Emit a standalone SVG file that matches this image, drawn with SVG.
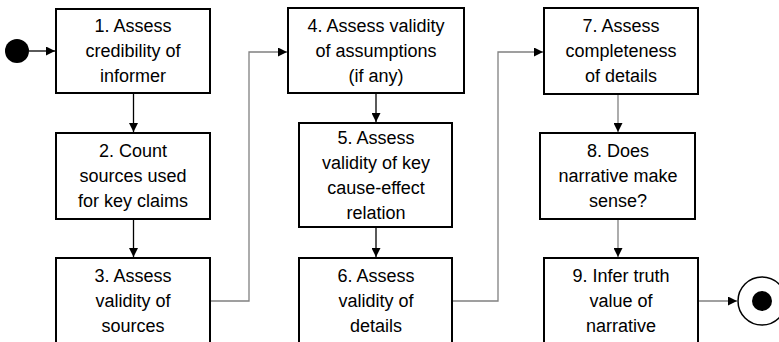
<svg xmlns="http://www.w3.org/2000/svg" width="779" height="342" viewBox="0 0 779 342">
<defs>
<marker id="ah" markerWidth="9" markerHeight="9" refX="9" refY="4.5" orient="auto" markerUnits="userSpaceOnUse">
<path d="M0,0 L9,4.5 L0,9 Z" fill="#000"/>
</marker>
<style>
.box{fill:#fff;stroke:#000;stroke-width:2}
.t{font-family:"Liberation Sans",Arial,sans-serif;font-size:18px;fill:#000;text-anchor:middle}
.c{fill:none;stroke:#808080;stroke-width:1.3}
.cb{fill:none;stroke:#000;stroke-width:1.3}
</style>
</defs>
<rect width="779" height="342" fill="#fff"/>
<g id="connectors">
<path class="cb" d="M29,51 H55" marker-end="url(#ah)"/>
<path class="cb" d="M133.5,94 V132" marker-end="url(#ah)"/>
<path class="cb" d="M133.5,219 V257" marker-end="url(#ah)"/>
<path class="c" d="M211,301 H249 V52 H287" marker-end="url(#ah)"/>
<path class="cb" d="M376,94 V122" marker-end="url(#ah)"/>
<path class="cb" d="M376,228 V257" marker-end="url(#ah)"/>
<path class="c" d="M453,301 H498 V52 H543" marker-end="url(#ah)"/>
<path class="c" d="M618,95 V132" marker-end="url(#ah)"/>
<path class="c" d="M618,220 V257" marker-end="url(#ah)"/>
<path class="c" d="M699,301 H737" marker-end="url(#ah)"/>
</g>
<g id="start"><circle cx="17" cy="51" r="12" fill="#000"/></g>
<g id="n1"><rect class="box" x="56" y="9" width="154" height="84"/>
<text class="t" x="133" y="32">1. Assess</text><text class="t" x="133" y="57">credibility of</text><text class="t" x="133" y="82">informer</text></g>
<g id="n2"><rect class="box" x="56" y="133" width="154" height="86"/>
<text class="t" x="133" y="157">2. Count</text><text class="t" x="133" y="182">sources used</text><text class="t" x="133" y="207">for key claims</text></g>
<g id="n3"><rect class="box" x="56" y="258" width="154" height="90"/>
<text class="t" x="133" y="282">3. Assess</text><text class="t" x="133" y="307">validity of</text><text class="t" x="133" y="332">sources</text></g>
<g id="n4"><rect class="box" x="288" y="8" width="176" height="85"/>
<text class="t" x="376" y="32">4. Assess validity</text><text class="t" x="376" y="57">of assumptions</text><text class="t" x="376" y="82">(if any)</text></g>
<g id="n5"><rect class="box" x="299" y="123" width="153" height="104"/>
<text class="t" x="376" y="144">5. Assess</text><text class="t" x="376" y="169">validity of key</text><text class="t" x="376" y="194">cause-effect</text><text class="t" x="376" y="219">relation</text></g>
<g id="n6"><rect class="box" x="299" y="258" width="153" height="90"/>
<text class="t" x="376" y="282">6. Assess</text><text class="t" x="376" y="307">validity of</text><text class="t" x="376" y="332">details</text></g>
<g id="n7"><rect class="box" x="544" y="8" width="154" height="86"/>
<text class="t" x="621" y="32">7. Assess</text><text class="t" x="621" y="57">completeness</text><text class="t" x="621" y="82">of details</text></g>
<g id="n8"><rect class="box" x="540" y="133" width="155" height="86"/>
<text class="t" x="618" y="157">8. Does</text><text class="t" x="618" y="182">narrative make</text><text class="t" x="618" y="207">sense?</text></g>
<g id="n9"><rect class="box" x="544" y="258" width="154" height="90"/>
<text class="t" x="621" y="282">9. Infer truth</text><text class="t" x="621" y="307">value of</text><text class="t" x="621" y="332">narrative</text></g>
<g id="end"><circle cx="762" cy="301" r="24" fill="#fff" stroke="#000" stroke-width="1.5"/><circle cx="762" cy="301" r="10" fill="#000"/></g>
</svg>
